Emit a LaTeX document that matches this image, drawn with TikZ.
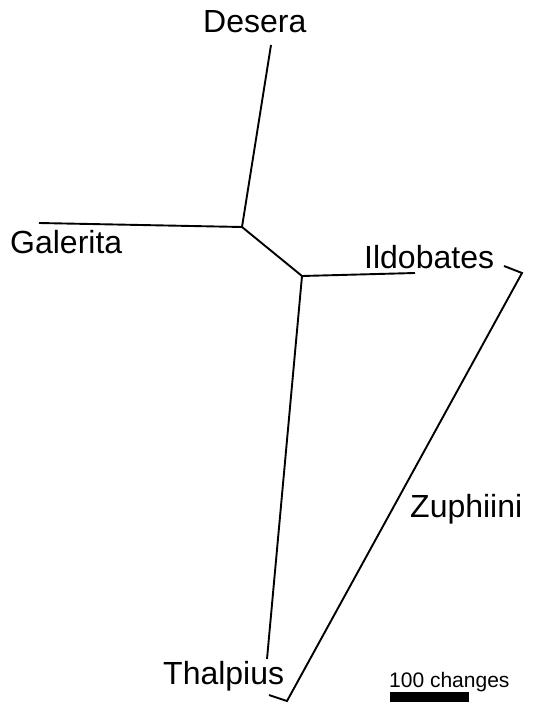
\documentclass[tikz,border=0pt]{standalone}
\usepackage{fontspec}
\setmainfont{Liberation Sans}
\begin{document}
\begin{tikzpicture}[x=1pt,y=-1pt,
  branch/.style={line width=1.9pt,line cap=butt,line join=miter},
  taxon/.style={anchor=base west,inner sep=0pt,font=\fontsize{32}{32}\selectfont},
  scalelabel/.style={anchor=base west,inner sep=0pt,font=\fontsize{21}{21}\selectfont}]
\useasboundingbox (0,0) rectangle (533,703);
% tree points
\coordinate (desTip) at (271,45);
\coordinate (j1) at (242,227);
\coordinate (galTip) at (39,223);
\coordinate (j2) at (302,276);
\coordinate (ildTip) at (415,273);
\coordinate (thaTip) at (267,659);
\coordinate (zA) at (504,266);
\coordinate (zB) at (522,273);
\coordinate (zC) at (287,701);
\coordinate (zD) at (269,695);
% branches
\draw[branch] (desTip) -- (j1);
\draw[branch] (galTip) -- (j1);
\draw[branch] (j1) -- (j2);
\draw[branch] (j2) -- (ildTip);
\draw[branch] (j2) -- (thaTip);
\draw[branch] (zA) -- (zB) -- (zC) -- (zD);
% labels
\node[taxon] (desera) at (203,33) {Desera};
\node[taxon] (galerita) at (10,253) {Galerita};
\node[taxon] (ildobates) at (364,268) {Ildobates};
\node[taxon] (thalpius) at (163,684) {Thalpius};
\node[taxon] (zuphiini) at (410,517) {Zuphiini};
% scale bar
\node[scalelabel] (scaletext) at (389,687) {100 changes};
\fill (390,692) rectangle (469,702);
\end{tikzpicture}
\end{document}
